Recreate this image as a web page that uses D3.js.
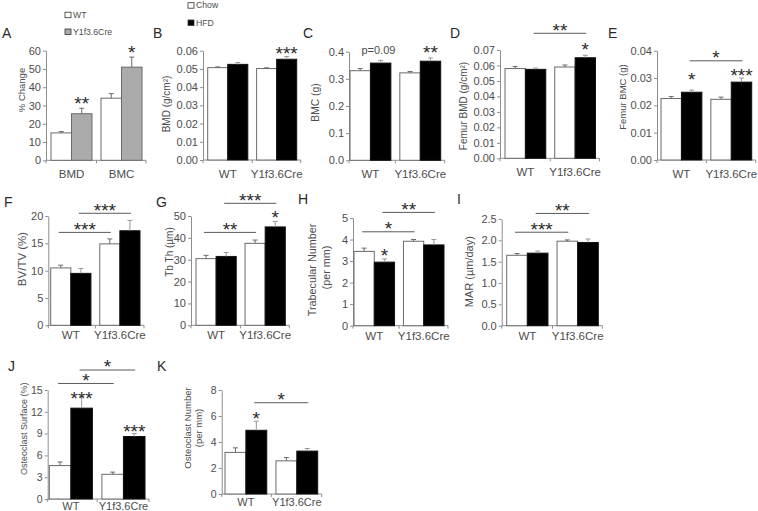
<!DOCTYPE html>
<html><head><meta charset="utf-8">
<script src="https://cdn.jsdelivr.net/npm/d3@7"></script>
<style>
body{margin:0;background:#fff;}
svg{display:block;font-family:Arial,"Liberation Sans",Helvetica,sans-serif;}
</style></head><body>
<svg id="chart" width="758" height="511"></svg>
<script>
// ================= DATA =================
const genotypes = ["WT", "Y1f3.6Cre"];
const diets = ["Chow", "HFD"];
const changeCategories = ["BMD", "BMC"];
const changeSeries = ["WT", "Y1f3.6Cre"];

// A: % change  [category][series]
const changeMean = [[15.0, 25.5], [34.0, 51.0]];
const changeErr  = [[0.7, 3.0], [2.5, 5.5]];
const changeTicks = [0, 10, 20, 30, 40, 50, 60];
const changeStars = [{c: 0, s: 1, label: "**"}, {c: 1, s: 1, label: "*"}];

// B-K: [genotype][diet]
const bmdMean = [[0.0507, 0.0525], [0.0502, 0.0553]];
const bmdErr  = [[0.0004, 0.0010], [0.0004, 0.0015]];
const bmdTicks = [0, 0.01, 0.02, 0.03, 0.04, 0.05, 0.06];
const bmdStars = [{c: 1, s: 1, label: "***"}];

const bmcMean = [[0.330, 0.358], [0.322, 0.365]];
const bmcErr  = [[0.008, 0.010], [0.005, 0.012]];
const bmcTicks = [0, 0.1, 0.2, 0.3, 0.4];
const bmcStars = [{c: 1, s: 1, label: "**"}];
const bmcNote = {c: 0, label: "p=0.09"};

const femurBmdMean = [[0.0580, 0.0575], [0.0590, 0.0650]];
const femurBmdErr  = [[0.0013, 0.0008], [0.0013, 0.0016]];
const femurBmdTicks = [0, 0.01, 0.02, 0.03, 0.04, 0.05, 0.06, 0.07];
const femurBmdStars = [{c: 1, s: 1, label: "*"}];
const femurBmdBrackets = [{from: [0, 1], to: [1, 1], level: 0.0808, label: "**"}];

const femurBmcMean = [[0.0225, 0.0248], [0.0222, 0.0285]];
const femurBmcErr  = [[0.0007, 0.0008], [0.0008, 0.0015]];
const femurBmcTicks = [0, 0.01, 0.02, 0.03, 0.04];
const femurBmcStars = [{c: 0, s: 1, label: "*"}, {c: 1, s: 1, label: "***"}];
const femurBmcBrackets = [{from: [0, 1], to: [1, 1], level: 0.0363, label: "*"}];

const bvtvMean = [[10.5, 9.5], [14.9, 17.3]];
const bvtvErr  = [[0.5, 0.9], [0.9, 1.9]];
const bvtvTicks = [0, 5, 10, 15, 20];
const bvtvStars = [];
const bvtvBrackets = [{from: [0, 0], to: [1, 0], level: 17.0, label: "***"},
                      {from: [0, 1], to: [1, 1], level: 20.5, label: "***"}];

const tbthMean = [[30.5, 31.5], [37.5, 45.0]];
const tbthErr  = [[1.5, 1.8], [1.5, 2.5]];
const tbthTicks = [0, 10, 20, 30, 40, 50];
const tbthStars = [{c: 1, s: 1, label: "*"}];
const tbthBrackets = [{from: [0, 0], to: [1, 0], level: 42.5, label: "**"},
                      {from: [0, 1], to: [1, 1], level: 55.8, label: "***"}];

const tbnMean = [[3.45, 2.95], [3.92, 3.75]];
const tbnErr  = [[0.15, 0.15], [0.08, 0.25]];
const tbnTicks = [0, 1, 2, 3, 4, 5];
const tbnStars = [{c: 0, s: 1, label: "*"}];
const tbnBrackets = [{from: [0, 0], to: [1, 0], level: 4.36, label: "*"},
                     {from: [0, 1], to: [1, 1], level: 5.26, label: "**"}];

const marMean = [[1.65, 1.70], [1.98, 1.95]];
const marErr  = [[0.04, 0.05], [0.03, 0.08]];
const marTicks = [0, 0.5, 1.0, 1.5, 2.0, 2.5];
const marStars = [];
const marBrackets = [{from: [0, 0], to: [1, 0], level: 2.19, label: "***"},
                     {from: [0, 1], to: [1, 1], level: 2.63, label: "**"}];

const ocsMean = [[4.6, 12.5], [3.4, 8.6]];
const ocsErr  = [[0.5, 1.6], [0.3, 0.4]];
const ocsTicks = [0, 3, 6, 9, 12, 15];
const ocsStars = [{c: 0, s: 1, label: "***"}, {c: 1, s: 1, label: "***"}];
const ocsBrackets = [{from: [0, 0], to: [1, 0], level: 15.9, label: "*"},
                     {from: [0, 1], to: [1, 1], level: 17.75, label: "*"}];

const ocnMean = [[3.2, 4.9], [2.55, 3.3]];
const ocnErr  = [[0.35, 0.7], [0.25, 0.2]];
const ocnTicks = [0, 2, 4, 6, 8];
const ocnStars = [{c: 0, s: 1, label: "*"}];
const ocnBrackets = [{from: [0, 1], to: [1, 1], level: 7.02, label: "*"}];

// ================= LAYOUT =================
const f2 = d3.format(".2f"), f1 = d3.format(".1f"), f0 = d3.format("d");
const WHITE = "#ffffff", BLACK = "#000000", GRAY = "#ababab";
const AXIS = "#8e8e8e", TEXT = "#4d4d4d", DARK = "#2a2a2a";

const panels = [
  {letter: "A", lx: 2, ly: 38, cats: changeCategories, series: changeSeries, mean: changeMean, err: changeErr,
   ticks: changeTicks, fmt: f0, fills: [WHITE, GRAY], stars: changeStars, starLift: [9, 9], brackets: [],
   ax: 46, x0: 51, x1: 142, yTop: 50.7, yBot: 160.3, labOff: 17.5,
   title: [{t: "% Change", x: 21.5, y: 90}], tfs: 9.5},
  {letter: "B", lx: 153, ly: 37.5, cats: genotypes, series: diets, mean: bmdMean, err: bmdErr,
   ticks: bmdTicks, fmt: f2, fills: [WHITE, BLACK], stars: bmdStars, starLift: [7.5], brackets: [],
   ax: 203, x0: 207.7, x1: 296.7, yTop: 50.7, yBot: 160, labOff: 17.5,
   title: [{t: "BMD (g/cm²)", x: 166.7, y: 104}], tfs: 10},
  {letter: "C", lx: 303, ly: 37.5, cats: genotypes, series: diets, mean: bmcMean, err: bmcErr,
   ticks: bmcTicks, fmt: f1, fills: [WHITE, BLACK], stars: bmcStars, starLift: [10], brackets: [], note: bmcNote,
   ax: 349, x0: 350, x1: 440.7, yTop: 51.7, yBot: 160.3, labOff: 17.5,
   title: [{t: "BMC (g)", x: 315, y: 102.5}], tfs: 10.3},
  {letter: "D", lx: 450, ly: 37.5, cats: genotypes, series: diets, mean: femurBmdMean, err: femurBmdErr,
   ticks: femurBmdTicks, fmt: f2, fills: [WHITE, BLACK], stars: femurBmdStars, starLift: [10.5], brackets: femurBmdBrackets,
   ax: 500, x0: 505, x1: 595.5, yTop: 50, yBot: 158.3, labOff: 18,
   title: [{t: "Femur BMD (g/cm²)", x: 463, y: 106}], tfs: 10},
  {letter: "E", lx: 608, ly: 37.5, cats: genotypes, series: diets, mean: femurBmcMean, err: femurBmcErr,
   ticks: femurBmcTicks, fmt: f2, fills: [WHITE, BLACK], stars: femurBmcStars, starLift: [15, 7], brackets: femurBmcBrackets,
   ax: 657, x0: 661, x1: 751.7, yTop: 50.7, yBot: 160, labOff: 17.5,
   title: [{t: "Femur BMC (g)", x: 623, y: 97}], tfs: 9.5},
  {letter: "F", lx: 4, ly: 207, cats: genotypes, series: diets, mean: bvtvMean, err: bvtvErr,
   ticks: bvtvTicks, fmt: f0, fills: [WHITE, BLACK], stars: bvtvStars, starLift: [], brackets: bvtvBrackets,
   ax: 48.3, x0: 50.7, x1: 140, yTop: 216, yBot: 325.3, labOff: 14,
   title: [{t: "BV/TV (%)", x: 21.7, y: 259}], tfs: 11.5},
  {letter: "G", lx: 156, ly: 207, cats: genotypes, series: diets, mean: tbthMean, err: tbthErr,
   ticks: tbthTicks, fmt: f0, fills: [WHITE, BLACK], stars: tbthStars, starLift: [8.5], brackets: tbthBrackets,
   ax: 191, x0: 196, x1: 285.3, yTop: 216, yBot: 325.3, labOff: 14,
   title: [{t: "Tb Th (µm)", x: 169.5, y: 252}], tfs: 10},
  {letter: "H", lx: 298, ly: 204, cats: genotypes, series: diets, mean: tbnMean, err: tbnErr,
   ticks: tbnTicks, fmt: f0, fills: [WHITE, BLACK], stars: tbnStars, starLift: [8], brackets: tbnBrackets,
   ax: 353, x0: 354, x1: 444, yTop: 218, yBot: 325.7, labOff: 14,
   title: [{t: "Trabecular Number", x: 312.5, y: 270}, {t: "(per mm)", x: 326, y: 267.5}], tfs: 10.8},
  {letter: "I", lx: 457, ly: 203.5, cats: genotypes, series: diets, mean: marMean, err: marErr,
   ticks: marTicks, fmt: f1, fills: [WHITE, BLACK], stars: marStars, starLift: [], brackets: marBrackets,
   ax: 501.7, x0: 506.7, x1: 598.3, yTop: 219, yBot: 325.7, labOff: 14,
   title: [{t: "MAR (µm/day)", x: 469, y: 271.7}], tfs: 11},
  {letter: "J", lx: 8, ly: 371, cats: genotypes, series: diets, mean: ocsMean, err: ocsErr,
   ticks: ocsTicks, fmt: f0, fills: [WHITE, BLACK], stars: ocsStars, starLift: [2.5, 6], brackets: ocsBrackets,
   ax: 47.7, x0: 49.3, x1: 145, yTop: 390, yBot: 499, labOff: 10.5,
   title: [{t: "Osteoclast Surface (%)", x: 24, y: 428.7}], tfs: 9, tickFs: 10.5},
  {letter: "K", lx: 157, ly: 371, cats: genotypes, series: diets, mean: ocnMean, err: ocnErr,
   ticks: ocnTicks, fmt: f0, fills: [WHITE, BLACK], stars: ocnStars, starLift: [6.7], brackets: ocnBrackets,
   ax: 221.7, x0: 225, x1: 317.7, yTop: 390, yBot: 494, labOff: 12,
   title: [{t: "Osteoclast Number", x: 187.7, y: 428}, {t: "(per mm)", x: 199, y: 428}], tfs: 9.5, tickFs: 10.5}
];

const STAR_FS = 19;
const svg = d3.select("#chart");

function drawPanel(p) {
  const g = svg.append("g");
  const tickFs = p.tickFs || 11;
  const catFs = tickFs + 0.5;
  const y = d3.scaleLinear().domain([0, d3.max(p.ticks)]).range([p.yBot, p.yTop]);
  const x = d3.scaleBand().domain(p.cats).range([p.x0, p.x1]).paddingInner(0.18).paddingOuter(0);
  const xs = d3.scaleBand().domain(p.series).range([0, x.bandwidth()]).padding(0);
  const cx = (ci, si) => x(p.cats[ci]) + xs(p.series[si]) + xs.bandwidth() / 2;

  // y axis
  const yAxis = d3.axisLeft(y).tickValues(p.ticks).tickFormat(p.fmt)
    .tickSize(3).tickSizeOuter(0).tickPadding(2);
  const ga = g.append("g").attr("transform", `translate(${p.ax},0)`).call(yAxis)
    .attr("font-family", null).attr("font-size", null);
  ga.select(".domain").attr("stroke", AXIS);
  ga.selectAll(".tick line").attr("stroke", AXIS);
  ga.selectAll(".tick text").attr("fill", TEXT).style("font-size", tickFs + "px");

  // x axis
  const xEnd = p.x1 + 4;
  const gap = x.step() * x.paddingInner();
  const bounds = [p.ax, x(p.cats[1]) - gap / 2, xEnd];
  g.append("line").attr("x1", p.ax).attr("x2", xEnd).attr("y1", p.yBot).attr("y2", p.yBot)
    .attr("stroke", AXIS);
  g.selectAll(".xt").data(bounds).join("line")
    .attr("x1", d => d).attr("x2", d => d).attr("y1", p.yBot).attr("y2", p.yBot + 3)
    .attr("stroke", AXIS);
  g.selectAll(".xl").data(p.cats).join("text")
    .attr("x", d => x(d) + x.bandwidth() / 2).attr("y", p.yBot + p.labOff)
    .attr("text-anchor", "middle").attr("fill", TEXT).style("font-size", catFs + "px")
    .text(d => d);

  // bars
  const rows = [];
  p.cats.forEach((c, ci) => p.series.forEach((s, si) =>
    rows.push({ci, si, m: p.mean[ci][si], e: p.err[ci][si]})));
  g.selectAll(".bar").data(rows).join("rect")
    .attr("x", d => x(p.cats[d.ci]) + xs(p.series[d.si]))
    .attr("y", d => y(d.m))
    .attr("width", xs.bandwidth())
    .attr("height", d => p.yBot - y(d.m))
    .attr("fill", d => p.fills[d.si])
    .attr("stroke", d => p.fills[d.si] === BLACK ? "#111" : "#6a6a6a")
    .attr("stroke-width", 1);

  // error bars (upper only)
  const eg = g.selectAll(".err").data(rows).join("g");
  const ec = d => p.fills[d.si] === BLACK ? "#9a9a9a" : "#6a6a6a";
  eg.append("line").attr("x1", d => cx(d.ci, d.si)).attr("x2", d => cx(d.ci, d.si))
    .attr("y1", d => y(d.m)).attr("y2", d => y(d.m + d.e)).attr("stroke", ec);
  eg.append("line").attr("x1", d => cx(d.ci, d.si) - 2.5).attr("x2", d => cx(d.ci, d.si) + 2.5)
    .attr("y1", d => y(d.m + d.e)).attr("y2", d => y(d.m + d.e)).attr("stroke", ec);

  // significance stars above bars
  g.selectAll(".star").data(p.stars).join("text")
    .attr("x", d => cx(d.c, d.s))
    .attr("y", (d, i) => y(p.mean[d.c][d.s] + p.err[d.c][d.s]) - (p.starLift[i] || 8) + 0.573 * STAR_FS)
    .attr("text-anchor", "middle").attr("fill", DARK).style("font-size", STAR_FS + "px")
    .text(d => d.label);

  // p-value note
  if (p.note) {
    const c = p.note.c;
    const top = Math.max(p.mean[c][0] + p.err[c][0], p.mean[c][1] + p.err[c][1]);
    g.append("text").attr("x", x(p.cats[c]) + x.bandwidth() / 2 + 8).attr("y", y(top) - 6)
      .attr("text-anchor", "middle").attr("fill", TEXT).style("font-size", "11px").text(p.note.label);
  }

  // brackets
  p.brackets.forEach(b => {
    const xa = cx(b.from[0], b.from[1]) - 2, xb = cx(b.to[0], b.to[1]) + 1;
    const yy = y(b.level);
    g.append("line").attr("x1", xa).attr("x2", xb).attr("y1", yy).attr("y2", yy)
      .attr("stroke", "#5a5a5a");
    g.append("text").attr("x", (xa + xb) / 2).attr("y", yy - 7.5 + 0.573 * STAR_FS)
      .attr("text-anchor", "middle").attr("fill", DARK).style("font-size", STAR_FS + "px")
      .text(b.label);
  });

  // y title
  p.title.forEach(t => {
    g.append("text").attr("transform", `translate(${t.x},${t.y}) rotate(-90)`)
      .attr("dy", "0.35em").attr("text-anchor", "middle").attr("fill", TEXT)
      .style("font-size", p.tfs + "px").text(t.t);
  });

  // panel letter
  g.append("text").attr("x", p.lx).attr("y", p.ly).attr("fill", DARK)
    .style("font-size", "14px").text(p.letter);
}

panels.forEach(drawPanel);

// legends
function legend(items, fills, lx, ys, fs) {
  const lg = svg.append("g");
  items.forEach((it, i) => {
    lg.append("rect").attr("x", lx).attr("y", ys[i] - 5.5).attr("width", 6).attr("height", 5.5)
      .attr("fill", fills[i]).attr("stroke", "#333").attr("stroke-width", 0.8);
    lg.append("text").attr("x", lx + 8).attr("y", ys[i]).attr("fill", TEXT)
      .style("font-size", fs + "px").text(it);
  });
}
legend(changeSeries, [WHITE, GRAY], 65, [17.7, 34.5], 8.7);
legend(diets, [WHITE, BLACK], 188, [8.2, 25.5], 8.7);
</script>
</body></html>
